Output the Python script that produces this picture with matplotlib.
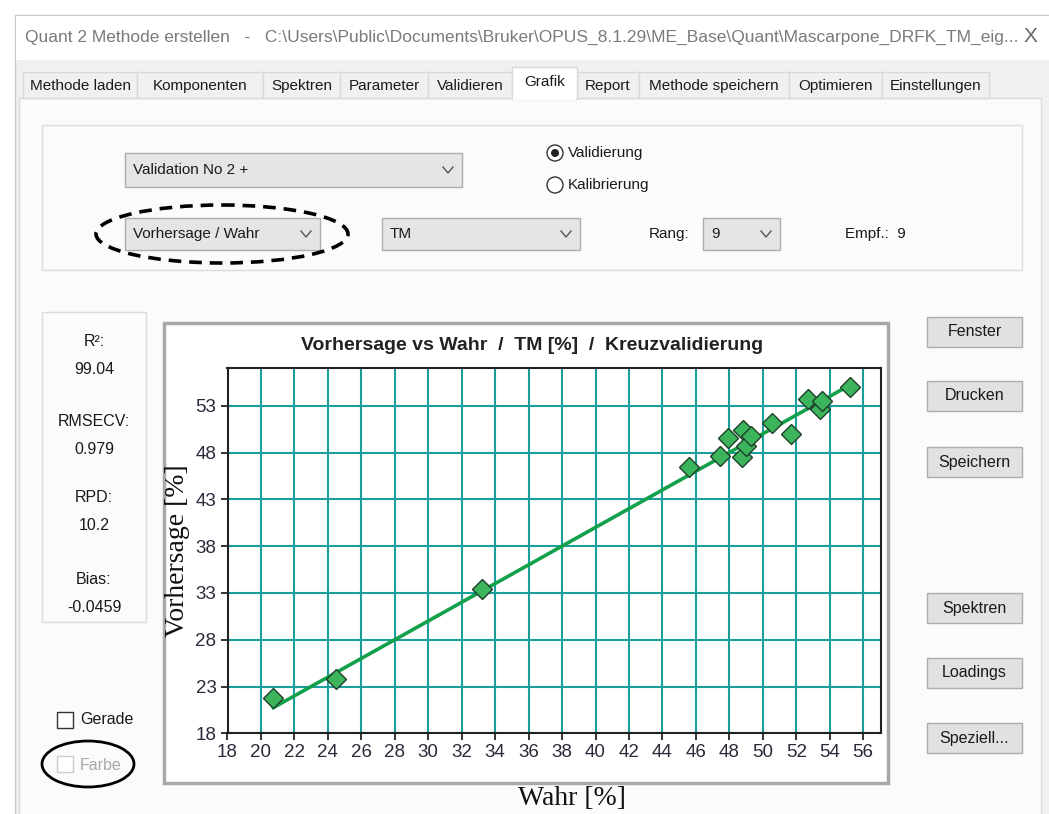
import numpy as np
import matplotlib
matplotlib.use("Agg")
import matplotlib.pyplot as plt
from matplotlib.patches import Rectangle, Ellipse, Circle

# cross-validation: true vs predicted TM [%]
wahr = [20.74, 24.46, 33.23, 45.58, 47.45, 47.94, 48.73, 48.83, 48.99,
        49.28, 50.56, 51.68, 52.73, 53.40, 53.55, 55.20]
vorhersage = [21.74, 23.80, 33.38, 46.50, 47.58, 49.52, 47.47, 50.45, 48.70,
              49.77, 51.20, 50.02, 53.71, 52.62, 53.47, 55.05]
x_ticks = list(range(18, 57, 2))
y_ticks = [18, 23, 28, 33, 38, 43, 48, 53]

stat_names = ["R²:", "RMSECV:", "RPD:", "Bias:"]
stat_values = ["99.04", "0.979", "10.2", "-0.0459"]
tab_names = ["Methode laden", "Komponenten", "Spektren", "Parameter", "Validieren",
             "Grafik", "Report", "Methode speichern", "Optimieren", "Einstellungen"]
button_names = ["Fenster", "Drucken", "Speichern", "Spektren", "Loadings", "Speziell..."]

UI_FONT = ["Liberation Sans", "DejaVu Sans"]
SERIF = ["Liberation Serif", "DejaVu Serif"]
TEAL = "#1a9e9e"
GREEN = "#13a04a"

fig = plt.figure(figsize=(10.49, 8.14), dpi=100)
fig.patch.set_facecolor("white")

# pixel-space canvas for the dialog widgets
ui = fig.add_axes([0, 0, 1, 1])
ui.set_xlim(0, 1049)
ui.set_ylim(814, 0)
ui.axis("off")


def txt(x, y, s, size=11, color="#1a1a1a", ha="left", **kw):
    ui.text(x, y, s, fontsize=size, color=color, ha=ha, va="center",
            family=UI_FONT, **kw)


def chevron(cx, cy):
    ui.plot([cx - 5, cx, cx + 5], [cy - 3, cy + 3, cy - 3], color="#555555", lw=1)


def combo(x0, y0, x1, y1, label):
    ui.add_patch(Rectangle((x0, y0), x1 - x0, y1 - y0, fc="#e5e5e5", ec="#adadad", lw=1))
    txt(x0 + 8, (y0 + y1) / 2, label)
    chevron(x1 - 14, (y0 + y1) / 2)


# window frame, title bar
ui.add_patch(Rectangle((15, 15), 1040, 805, fc="#f0f0f0", ec="#c8c8c8", lw=1))
ui.add_patch(Rectangle((16, 16), 1040, 44, fc="white", ec="none"))
txt(25, 37, "Quant 2 Methode erstellen   -   C:\\Users\\Public\\Documents\\Bruker\\"
    "OPUS_8.1.29\\ME_Base\\Quant\\Mascarpone_DRFK_TM_eig...", size=12.5, color="#7a7a7a")
txt(1030, 36, "X", size=15, color="#666666", ha="center")

# content panel and tab strip
ui.add_patch(Rectangle((19, 98), 1022, 730, fc="#fbfbfb", ec="#d9d9d9", lw=1))
tab_edges = [23, 137, 263, 340, 428, 512, 577, 639, 789, 882, 989]
for i, name in enumerate(tab_names):
    x0, x1 = tab_edges[i], tab_edges[i + 1]
    if name == "Grafik":
        ui.add_patch(Rectangle((x0, 67), x1 - x0, 32, fc="white", ec="#d9d9d9", lw=1, zorder=3))
        ui.add_patch(Rectangle((x0 + 1, 96), x1 - x0 - 2, 4, fc="white", ec="none", zorder=4))
        txt((x0 + x1) / 2, 82, name, ha="center", zorder=5)
    else:
        ui.add_patch(Rectangle((x0, 72), x1 - x0, 26, fc="#f0f0f0", ec="#d9d9d9", lw=1))
        txt((x0 + x1) / 2, 86, name, ha="center")

# selection group
ui.add_patch(Rectangle((42, 125), 980, 145, fc="#fbfbfb", ec="#dcdcdc", lw=1))
combo(125, 153, 462, 187, "Validation No 2 +")
combo(125, 218, 320, 250, "Vorhersage / Wahr")
combo(382, 218, 580, 250, "TM")
combo(703, 218, 780, 250, "9")
txt(649, 234, "Rang:")
txt(845, 234, "Empf.:  9")
ui.add_patch(Circle((555, 153), 8, fc="white", ec="#333333", lw=1))
ui.add_patch(Circle((555, 153), 4, fc="#222222", ec="none"))
ui.add_patch(Circle((555, 185), 8, fc="white", ec="#333333", lw=1))
txt(568, 153, "Validierung")
txt(568, 185, "Kalibrierung")
ui.add_patch(Ellipse((222, 234), 252, 58, fill=False, ec="black", lw=2.6,
                     ls=(0, (3.5, 2.2))))

# statistics box
ui.add_patch(Rectangle((42, 312), 104, 310, fc="#fbfbfb", ec="#dcdcdc", lw=1))
stat_y = [342, 421, 497, 579]
for name, val, y in zip(stat_names, stat_values, stat_y):
    txt(94, y, name, ha="center", size=11.5)
    txt(94, y + 28, val, ha="center", size=11.5)

# check boxes
ui.add_patch(Rectangle((57, 712), 16, 16, fc="white", ec="#333333", lw=1))
txt(80, 720, "Gerade", size=11.5)
ui.add_patch(Rectangle((57, 756), 16, 16, fc="white", ec="#cccccc", lw=1))
txt(80, 765, "Farbe", size=11.5, color="#a8a8a8")
ui.add_patch(Ellipse((88, 764), 92, 46, fill=False, ec="black", lw=2))

# buttons
button_y = [332, 396, 462, 608, 673, 738]
for name, y in zip(button_names, button_y):
    ui.add_patch(Rectangle((927, y - 15), 95, 30, fc="#e1e1e1", ec="#adadad", lw=1))
    txt(974.5, y, name, ha="center", size=11.5)

# chart frame
ui.add_patch(Rectangle((164, 323), 724, 460, fc="white", ec="#a8a8a8", lw=2.5))

# chart
ax = fig.add_axes([227.5 / 1049, (814 - 733.3) / 814, 653.1 / 1049, 365.6 / 814])
ax.set_facecolor("white")
ax.set_xlim(18, 57.04)
ax.set_ylim(18, 57.06)
ax.set_xticks(x_ticks)
ax.set_yticks(y_ticks)
ax.grid(True, color=TEAL, lw=1.5)
ax.set_axisbelow(True)
for sp in ax.spines.values():
    sp.set_color("#222222")
    sp.set_linewidth(1.5)
ax.tick_params(direction="out", length=5, width=1.3, color="#222222",
               labelsize=13.5, labelcolor="#2a2a3a", pad=3)
for lab in ax.get_xticklabels() + ax.get_yticklabels():
    lab.set_family(UI_FONT)

lo, hi = min(wahr), max(wahr)
ax.plot([lo, hi], [lo, hi], color=GREEN, lw=2.6, zorder=3)
ax.plot(wahr, vorhersage, ls="none", marker="D", ms=10, mfc="#3cb45c",
        mec="#1f3f2a", mew=1, zorder=4)

ax.set_title("Vorhersage vs Wahr  /  TM [%]  /  Kreuzvalidierung", x=0.466, y=1.048,
             pad=0, fontsize=14, fontweight="bold", color="#222222", family=UI_FONT)
ax.set_xlabel("Wahr [%]", fontsize=20, family=SERIF, color="#111111")
ax.set_ylabel("Vorhersage [%]", fontsize=20, family=SERIF, color="#111111")
ax.xaxis.set_label_coords(0.527, -0.143)
ax.yaxis.set_label_coords(-0.058, 0.5)

fig.savefig("out.png", dpi=100, facecolor=fig.get_facecolor())
